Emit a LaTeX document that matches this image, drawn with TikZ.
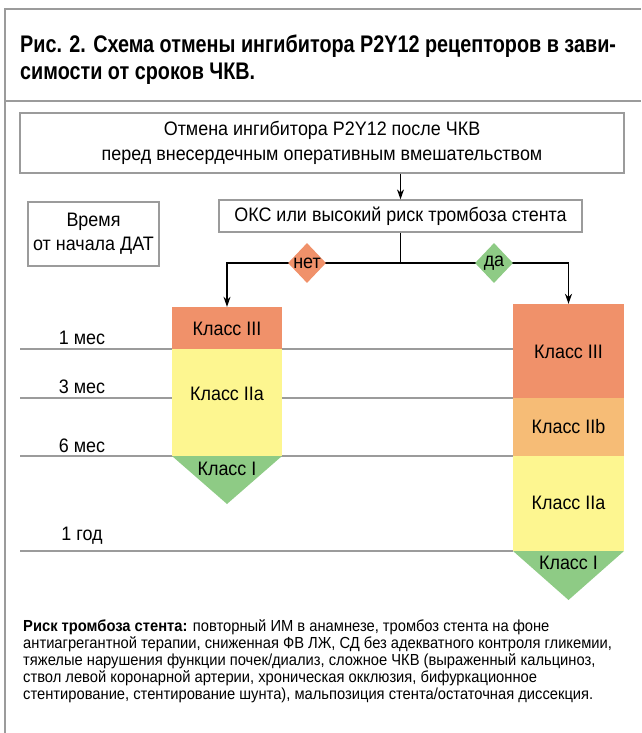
\documentclass[tikz,border=0pt]{standalone}
\usepackage{fontspec}
\setmainfont{Liberation Sans}
\newfontfamily\titlefont[FakeStretch=0.825]{Liberation Sans}
\newfontfamily\condfont[FakeStretch=0.92]{Liberation Sans}
\usetikzlibrary{arrows.meta,shapes.geometric}
\definecolor{cIII}{RGB}{240,145,106}
\definecolor{cIIa}{RGB}{253,246,144}
\definecolor{cIIb}{RGB}{246,188,118}
\definecolor{cI}{RGB}{142,203,133}
\definecolor{lgray}{RGB}{155,155,155}
\tikzset{
  framel/.style={draw=lgray, line width=1.3pt},
  gridl/.style={draw=lgray, line width=1.3pt},
  boxn/.style={draw=lgray, line width=1.3pt, fill=white, inner sep=0pt, align=center,
     font=\condfont\fontsize{19.5}{24}\selectfont},
  txt/.style={inner sep=0pt, font=\condfont\fontsize{19.5}{24}\selectfont},
  ftxt/.style={inner sep=0pt, anchor=base west, font=\condfont\fontsize{16}{17}\selectfont},
  colbox/.style={draw=none, inner sep=0pt, minimum width=110pt},
  dia/.style={diamond, draw=none, inner sep=0pt, minimum width=38pt, minimum height=40pt},
  arr/.style={draw=black, line width=1.1pt, -{Stealth[length=10pt,width=7pt]}},
  conn/.style={draw=black, line width=1.1pt}
}
\begin{document}
\begin{tikzpicture}[x=1pt,y=-1pt]
\useasboundingbox (0,0) rectangle (641,733);
% frame
\draw[framel] (641,9) -- (5,9) -- (5,733);
\draw[framel] (5,101) -- (641,101);
% title
\node[anchor=base west, inner sep=0pt, font=\titlefont\bfseries\fontsize{24}{27}\selectfont] (t1) at (20,53) {Рис. 2. Схема отмены ингибитора P2Y12 рецепторов в зави-};
\node[anchor=base west, inner sep=0pt, font=\titlefont\bfseries\fontsize{24}{27}\selectfont] (t2) at (20,80) {симости от сроков ЧКВ.};
% top box
\node[boxn, minimum width=604pt, minimum height=60pt, font=\condfont\fontsize{19.5}{25}\selectfont] (top) at (322,143) {Отмена ингибитора P2Y12 после ЧКВ\\перед внесердечным оперативным вмешательством};
\node[boxn, minimum width=363pt, minimum height=32pt] (q) at (400.5,216) {ОКС или высокий риск тромбоза стента};
\node[boxn, minimum width=131pt, minimum height=64pt] (time) at (93.5,234) {Время\\от начала ДАТ};
% grid lines
\draw[gridl] (20,349) -- (513,349);
\draw[gridl] (20,398) -- (513,398);
\draw[gridl] (20,456) -- (513,456);
\draw[gridl] (20,551) -- (513,551);
\node[txt] (m1) at (82,338) {1 мес};
\node[txt] (m3) at (82,387) {3 мес};
\node[txt] (m6) at (82,446) {6 мес};
\node[txt] (y1) at (82,536) {1 год};
% left column
\node[colbox, fill=cIII, minimum height=42pt] (lIII) at (227,328) {};
\node[colbox, fill=cIIa, minimum height=107pt] (lIIa) at (227,402.5) {};
\fill[cI] (172,456) -- (282,456) -- (227,504) -- cycle;
\node[txt] (lIIIt) at (227,329) {Класс III};
\node[txt] (lIIat) at (227,394) {Класс IIa};
\node[txt] (lIt) at (227,469) {Класс I};
% right column
\node[colbox, fill=cIII, minimum height=94pt, minimum width=111pt] (rIII) at (568.5,351) {};
\node[colbox, fill=cIIb, minimum height=58pt, minimum width=111pt] (rIIb) at (568.5,427) {};
\node[colbox, fill=cIIa, minimum height=95pt, minimum width=111pt] (rIIa) at (568.5,503.5) {};
\fill[cI] (513,551) -- (624,551) -- (568.5,600) -- cycle;
\node[txt] (rIIIt) at (568.5,352) {Класс III};
\node[txt] (rIIbt) at (568.5,427) {Класс IIb};
\node[txt] (rIIat) at (568.5,503) {Класс IIa};
\node[txt] (rIt) at (568.5,563) {Класс I};
% connectors
\coordinate (br) at (400.5,263);
\draw[arr] (top.south -| q.north) -- (q.north);
\draw[conn] (q.south) -- (br);
\draw[arr] (br) -| (lIII.north);
\draw[arr] (br) -| (rIII.north);
\node[dia, fill=cIII] (no) at (307,263) {};
\node[txt] (not) at (no) {нет};
\node[dia, fill=cI] (yes) at (494,263) {};
\node[txt] (yest) at (yes) {да};
% footnote
\node[ftxt] (f1) at (23,631) {\textbf{Риск тромбоза стента:} повторный ИМ в анамнезе, тромбоз стента на фоне};
\node[ftxt] (f2) at (23,648) {антиагрегантной терапии, сниженная ФВ ЛЖ, СД без адекватного контроля гликемии,};
\node[ftxt] (f3) at (23,665) {тяжелые нарушения функции почек/диализ, сложное ЧКВ (выраженный кальциноз,};
\node[ftxt] (f4) at (23,682) {ствол левой коронарной артерии, хроническая окклюзия, бифуркационное};
\node[ftxt] (f5) at (23,699) {стентирование, стентирование шунта), мальпозиция стента/остаточная диссекция.};
\end{tikzpicture}
\end{document}
